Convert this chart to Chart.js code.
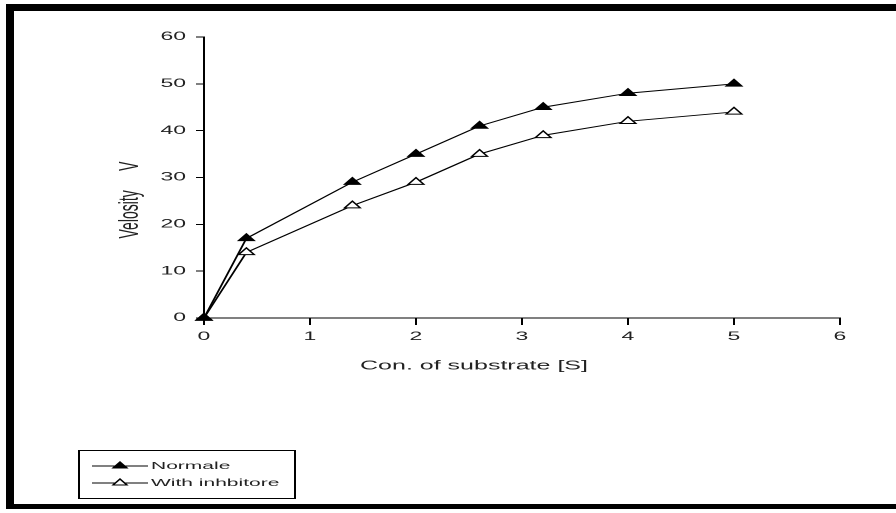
<!DOCTYPE html>
<html>
<head>
<meta charset="utf-8">
<script src="https://cdn.jsdelivr.net/npm/chart.js@4.4.1/dist/chart.umd.min.js"></script>
<style>
  html, body { margin: 0; padding: 0; background: #fff; overflow: hidden; }
  body { width: 896px; height: 513px; position: relative; }
  /* the picture is stretched sideways, so draw at half width and scale */
  #grafico { position: absolute; left: 0; top: 0; transform: scaleX(2); transform-origin: 0 0; }
  #moldura { position: absolute; left: 6px; top: 4px; width: 960px; height: 493px;
             border-left: 8px solid #000; border-top: 7px solid #000; border-bottom: 5px solid #000; }
</style>
</head>
<body>
<canvas id="grafico" width="448" height="513"></canvas>
<div id="moldura"></div>
<script>
// dados
const substrato = [0, 0.4, 1.4, 2, 2.6, 3.2, 4, 5];
const normale = [0, 17, 29, 35, 41, 45, 48, 50];
const inibidor = [0, 14, 24, 29, 35, 39, 42, 44];
const nomesSeries = ['Normale', 'With inhbitore'];
const tituloX = 'Con. of substrate [S]';
const tituloY = 'Velosity     V';

const fonte = "'Liberation Sans', Arial, sans-serif";

function pontos(valores) {
    return substrato.map((s, i) => ({ x: s, y: valores[i] }));
}

function triangulo(ctx, x, y, r, cheio) {
    ctx.beginPath();
    ctx.moveTo(x, y - r);
    ctx.lineTo(x + Math.sin(2 * Math.PI / 3) * r, y + r / 2);
    ctx.lineTo(x - Math.sin(2 * Math.PI / 3) * r, y + r / 2);
    ctx.closePath();
    ctx.fillStyle = cheio ? '#000' : '#fff';
    ctx.fill();
    ctx.strokeStyle = '#000';
    ctx.lineWidth = 1;
    ctx.stroke();
}

// títulos dos eixos (deslocados do centro como no original) e legenda em caixa
const extras = {
    id: 'extras',
    afterDraw(chart) {
        const ctx = chart.ctx;
        ctx.save();
        ctx.fillStyle = '#222';
        ctx.textAlign = 'center';
        ctx.textBaseline = 'middle';
        ctx.font = '12.5px ' + fonte;
        ctx.fillText(tituloX, 237, 366);

        ctx.save();
        ctx.translate(65, 200);
        ctx.rotate(-Math.PI / 2);
        ctx.font = '14px ' + fonte;
        ctx.fillText(tituloY, 0, 0);
        ctx.restore();

        ctx.strokeStyle = '#000';
        ctx.lineWidth = 1;
        ctx.strokeRect(39.5, 450.5, 108, 48);
        ctx.font = '10.5px ' + fonte;
        ctx.textAlign = 'left';
        chart.data.datasets.forEach((ds, i) => {
            const y = 466 + i * 17;
            ctx.beginPath();
            ctx.moveTo(46, y);
            ctx.lineTo(74, y);
            ctx.strokeStyle = '#000';
            ctx.stroke();
            triangulo(ctx, 60, y, 4, i === 0);
            ctx.fillStyle = '#222';
            ctx.fillText(ds.label, 75.5, y);
        });
        ctx.restore();
    }
};

const ctx = document.getElementById('grafico').getContext('2d');
const grafico = new Chart(ctx, {
    type: 'line',
    data: {
        datasets: [{
            label: nomesSeries[0],
            data: pontos(normale),
            borderColor: '#000',
            borderWidth: 1,
            pointStyle: 'triangle',
            pointRadius: 4.5,
            pointBackgroundColor: '#000',
            pointBorderColor: '#000',
            pointBorderWidth: 1,
            tension: 0,
            clip: false
        }, {
            label: nomesSeries[1],
            data: pontos(inibidor),
            borderColor: '#000',
            borderWidth: 1,
            pointStyle: 'triangle',
            pointRadius: 4.5,
            pointBackgroundColor: '#fff',
            pointBorderColor: '#000',
            pointBorderWidth: 1,
            tension: 0,
            clip: false
        }]
    },
    options: {
        responsive: false,
        animation: false,
        devicePixelRatio: 2,
        layout: { padding: { left: 53, right: 28, top: 37, bottom: 135 } },
        plugins: { legend: { display: false }, tooltip: { enabled: false } },
        scales: {
            x: {
                type: 'linear',
                min: 0,
                max: 6,
                ticks: { stepSize: 1, color: '#222', padding: 5, font: { family: fonte, size: 11.5 } },
                grid: { drawOnChartArea: false, drawTicks: true, tickLength: 7, tickColor: '#000' },
                border: { display: true, color: '#000', width: 1 },
                afterFit: (escala) => { escala.height = 60; }
            },
            y: {
                min: 0,
                max: 60,
                ticks: { stepSize: 10, color: '#222', padding: 5, font: { family: fonte, size: 11.5 } },
                grid: { drawOnChartArea: false, drawTicks: true, tickLength: 4, tickColor: '#000' },
                border: { display: true, color: '#000', width: 1 },
                afterFit: (escala) => { escala.width = 49; }
            }
        }
    },
    plugins: [extras]
});
</script>
</body>
</html>
